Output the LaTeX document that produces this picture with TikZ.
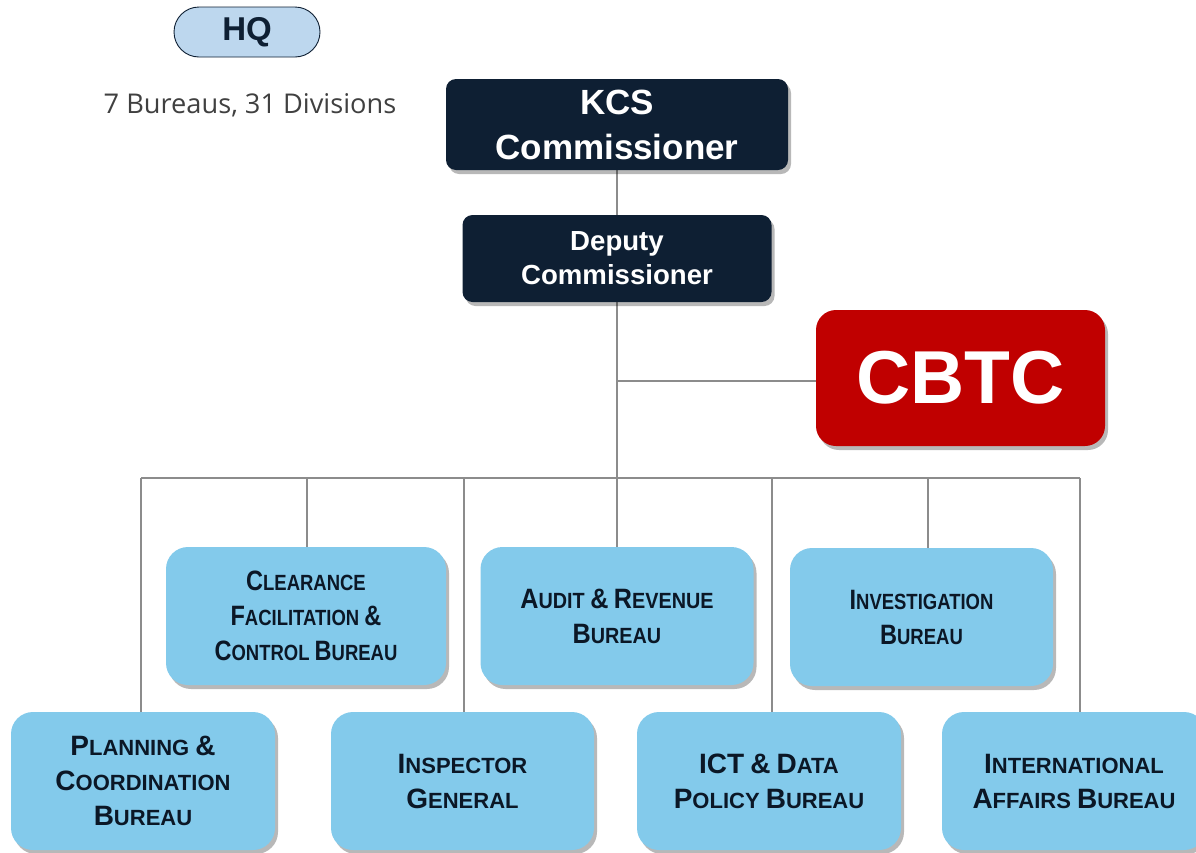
\documentclass[tikz,border=0pt]{standalone}
\usepackage{fontspec}
\setmainfont{Liberation Sans}
\newfontfamily\opensans{Open Sans}
\newfontfamily\narrowsans[FakeStretch=0.84]{Liberation Sans}
\newfontfamily\audsans[FakeStretch=0.90]{Liberation Sans}
\usetikzlibrary{shadows,backgrounds}
\definecolor{navy}{HTML}{0E1F33}
\definecolor{boxblue}{HTML}{83CAEB}
\definecolor{cbtcred}{HTML}{C00000}
\definecolor{hqfill}{HTML}{BDD7EE}
\definecolor{linegray}{HTML}{8C8C8C}
\definecolor{txtdark}{HTML}{0B1726}
\definecolor{infogray}{HTML}{404040}
\newcommand\SCbig[1]{{\fontsize{28}{35}\selectfont #1}}
\begin{document}
\begin{tikzpicture}[x=1pt,y=-1pt,
  conn/.style={draw=linegray,line width=2pt},
  shad/.style={drop shadow={shadow xshift=3pt,shadow yshift=-4pt,opacity=0.28,fill=black}},
  navybox/.style={fill=navy,rounded corners=10pt,text=white,align=center,inner sep=0pt,shad},
  bureau/.style={fill=boxblue,rounded corners=22pt,text=txtdark,align=center,inner sep=0pt,
    minimum width=264pt,minimum height=138pt,shad},
  bfont/.style={font=\bfseries\fontsize{22}{35}\selectfont},
  nfont/.style={font=\narrowsans\bfseries\fontsize{22}{35}\selectfont},
  afont/.style={font=\audsans\bfseries\fontsize{22}{35}\selectfont},
]
\useasboundingbox (0,0) rectangle (1196,852);

% header
\node[draw=navy,fill=hqfill,rounded corners=25pt,minimum width=146pt,minimum height=50pt,
      line width=0.9pt,text=navy,font=\bfseries\fontsize{33}{33}\selectfont] (hq) at (247,32) {HQ};
\node[text=infogray,font=\opensans\fontsize{27.2}{30}\selectfont] (info) at (250,105) {7 Bureaus, 31 Divisions};

% top boxes
\node[navybox,minimum width=342pt,minimum height=91pt,font=\bfseries\fontsize{35}{45}\selectfont] (kcs) at (617,124.5) {KCS\\Commissioner};
\node[navybox,minimum width=309pt,minimum height=87pt,font=\bfseries\fontsize{27.6}{34}\selectfont] (dep) at (617,258.5) {Deputy\\Commissioner};
\node[fill=cbtcred,rounded corners=20pt,text=white,inner sep=0pt,minimum width=289pt,minimum height=136pt,
      font=\bfseries\fontsize{75}{80}\selectfont,shad] (cbtc) at (960.5,378) {CBTC};

% middle row
\node[bureau,nfont,minimum width=280pt] (clr) at (306,616) {\SCbig{C}LEARANCE\\\SCbig{F}ACILITATION \SCbig{\&}\\\SCbig{C}ONTROL \SCbig{B}UREAU};
\node[bureau,afont,minimum width=273pt] (aud) at (617,616) {\SCbig{A}UDIT \SCbig{\&} \SCbig{R}EVENUE\\\SCbig{B}UREAU};
\node[bureau,nfont,minimum width=263pt] (inv) at (921.5,617) {\SCbig{I}NVESTIGATION\\\SCbig{B}UREAU};

% bottom row
\node[bureau,bfont] (pln) at (143,781) {\SCbig{P}LANNING \SCbig{\&}\\\SCbig{C}OORDINATION\\\SCbig{B}UREAU};
\node[bureau,bfont,minimum width=263pt] (ins) at (462.5,781) {\SCbig{I}NSPECTOR\\\SCbig{G}ENERAL};
\node[bureau,bfont] (ict) at (769,781) {\SCbig{ICT} \SCbig{\&} \SCbig{D}ATA\\\SCbig{P}OLICY \SCbig{B}UREAU};
\node[bureau,bfont] (intl) at (1074,781) {\SCbig{I}NTERNATIONAL\\\SCbig{A}FFAIRS \SCbig{B}UREAU};

% connectors
\coordinate (junc) at (617,381);
\coordinate (busc) at (617,478);
\coordinate (d1) at (141,478);
\coordinate (d2) at (307,478);
\coordinate (d3) at (464,478);
\coordinate (d5) at (772,478);
\coordinate (d6) at (928,478);
\coordinate (d7) at (1080,478);
\begin{scope}[on background layer]
\draw[conn] (kcs.south) -- (dep.north);
\draw[conn] (dep.south) -- (busc);
\draw[conn] (junc) -- (junc -| cbtc.west);
\draw[conn] (d1) -- (d7);
\draw[conn] (d1) -- (d1 |- pln.north);
\draw[conn] (d2) -- (d2 |- clr.north);
\draw[conn] (d3) -- (d3 |- ins.north);
\draw[conn] (busc) -- (aud.north);
\draw[conn] (d5) -- (d5 |- ict.north);
\draw[conn] (d6) -- (d6 |- inv.north);
\draw[conn] (d7) -- (d7 |- intl.north);
\end{scope}
\end{tikzpicture}
\end{document}
